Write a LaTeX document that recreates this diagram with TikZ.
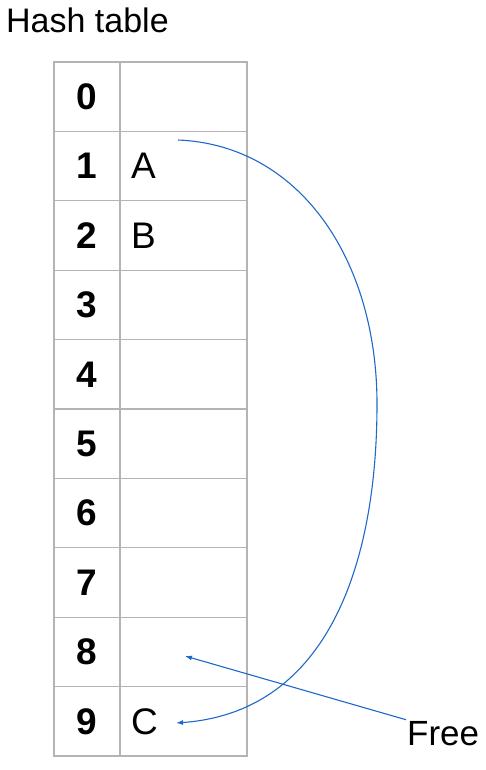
\documentclass[tikz,border=0pt]{standalone}
\usepackage{fontspec}
\setmainfont{Liberation Sans}
\usepackage{tikz}
\usetikzlibrary{arrows.meta}

\definecolor{gridgray}{HTML}{B4B4B4}
\definecolor{linkblue}{HTML}{1F68C8}

\tikzset{
  idxcell/.style={draw=gridgray, line width=1.2pt, minimum width=66pt, minimum height=69.4pt, inner sep=0pt, font=\fontsize{37}{42}\selectfont\bfseries},
  valcell/.style={draw=gridgray, line width=1.2pt, minimum height=69.4pt, text width=105pt, inner xsep=11pt, inner ysep=0pt, align=left, font=\fontsize{37}{42}\selectfont},
  link/.style={draw=linkblue, line width=1.1pt, -{Latex[length=7pt,width=5pt]}}
}

\begin{document}
\begin{tikzpicture}[x=1pt,y=-1pt]
  \useasboundingbox (0,0) rectangle (486,770);

  \node[anchor=base west, inner sep=0pt, font=\fontsize{34}{38}\selectfont] (title) at (6,33) {Hash table};

  \foreach \i/\v in {0/{},1/A,2/B,3/{},4/{},5/{},6/{},7/{},8/{},9/C} {
    \node[idxcell] (idx\i) at (87,{62+69.4*(\i+0.5)}) {\i};
    \node[valcell] (val\i) at (183.5,{62+69.4*(\i+0.5)}) {\v};
  }

  \node[anchor=base west, inner sep=1pt, font=\fontsize{35}{40}\selectfont] (free) at (406,745) {Free};

  \coordinate (aout) at (178,140);
  \coordinate (cin) at (176,723);
  \coordinate (slot8) at (185,656);

  \draw[link] (aout) .. controls (300,145) and (377,260) .. (377,404)
                     .. controls (377,560) and (330,712) .. (cin);
  \draw[link] (free.north west) -- (slot8);
\end{tikzpicture}
\end{document}
